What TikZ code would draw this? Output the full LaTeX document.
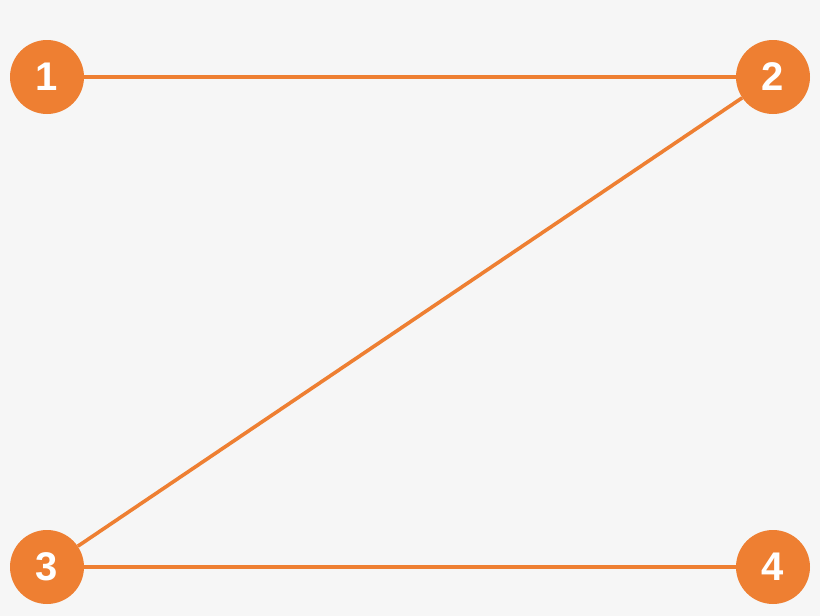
\documentclass[tikz,border=0pt]{standalone}
\usepackage{xcolor}
\usepackage{fontspec}
\setmainfont{Liberation Sans}
\definecolor{orng}{HTML}{EE7F32}
\definecolor{bgrey}{HTML}{F6F6F6}
\begin{document}
\begin{tikzpicture}[x=1pt,y=-1pt]
\tikzstyle{vert}=[circle,fill=orng,minimum size=74pt,inner sep=0pt,text=white,font=\fontsize{40}{40}\selectfont\bfseries]
\tikzstyle{edge}=[orng,line width=3.6pt]
\fill [bgrey] (0,0) rectangle (820,616);
\useasboundingbox (0,0) rectangle (820,616);
\node [vert] (v1) at (47,77) {1};
\node [vert] (v2) at (773,77) {2};
\node [vert] (v3) at (47,567) {3};
\node [vert] (v4) at (773,567) {4};
\draw [edge] (v1) -- (v2);
\draw [edge] (v2) -- (v3);
\draw [edge] (v3) -- (v4);
\end{tikzpicture}
\end{document}
